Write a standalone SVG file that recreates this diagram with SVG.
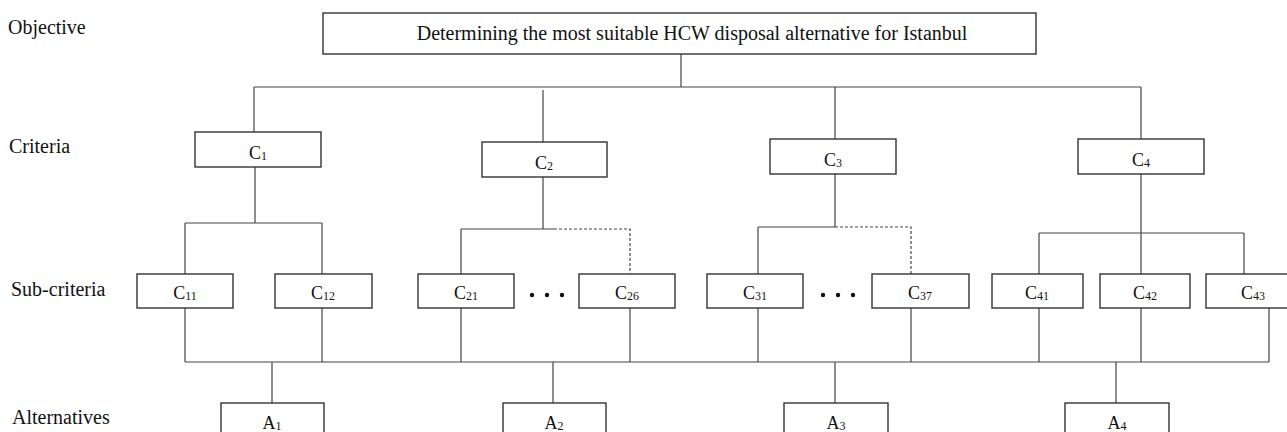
<svg xmlns="http://www.w3.org/2000/svg" width="1287" height="432" viewBox="0 0 1287 432">
<style>
.box{fill:#fff;stroke:#333;stroke-width:1.4}
.ln{stroke:#444;stroke-width:1.2;fill:none}
.dash{stroke:#444;stroke-width:1.2;fill:none;stroke-dasharray:3,2}
.lbl{font-family:"Liberation Serif","Times New Roman",serif;font-size:20px;fill:#111}
.t{font-family:"Liberation Serif","Times New Roman",serif;font-size:18px;fill:#111;text-anchor:middle}
.s{font-size:12px}
</style>
<rect width="1287" height="432" fill="#fff"/>
<g id="levels">
<text class="lbl" x="8" y="34">Objective</text>
<text class="lbl" x="9" y="153">Criteria</text>
<text class="lbl" x="11" y="296">Sub-criteria</text>
<text class="lbl" x="12" y="424">Alternatives</text>
</g>
<g id="connectors">
<path class="ln" d="M681 54V87M254 87H1141M254 87V132M543 90V142M835 87V139M1141 87V139"/>
<path class="ln" d="M255 167V223M185 223H322M185 223V274M322 223V274"/>
<path class="ln" d="M543 177V229M461 229H554M461 229V274"/>
<path class="dash" d="M554 229H630V274"/>
<path class="ln" d="M835 174V227M758 227H835M758 227V274"/>
<path class="dash" d="M835 227H911V274"/>
<path class="ln" d="M1141 174V274M1039 233H1244M1039 233V274M1244 233V274"/>
<path class="ln" d="M185 308V362M322 308V362M461 308V362M630 308V362M758 308V362M911 308V362M1039 308V362M1141 308V362M1269 308V362M185 362H1269"/>
<path class="ln" d="M272 362V403M553 362V403M835 362V403M1116 362V403"/>
</g>
<g id="objective"><rect class="box" x="323" y="13" width="713" height="41"/><text class="t" x="692" y="40" style="font-size:20px">Determining the most suitable HCW disposal alternative for Istanbul</text></g>
<g id="C1"><rect class="box" x="195" y="132" width="126" height="35"/><text class="t" x="258" y="159">C<tspan class="s" dy="1">1</tspan></text></g>
<g id="C2"><rect class="box" x="482" y="142" width="125" height="35"/><text class="t" x="544" y="169">C<tspan class="s" dy="1">2</tspan></text></g>
<g id="C3"><rect class="box" x="770" y="139" width="126" height="35"/><text class="t" x="833" y="166">C<tspan class="s" dy="1">3</tspan></text></g>
<g id="C4"><rect class="box" x="1078" y="139" width="126" height="35"/><text class="t" x="1141" y="166">C<tspan class="s" dy="1">4</tspan></text></g>
<g id="C11"><rect class="box" x="137" y="274" width="96" height="34"/><text class="t" x="185" y="299">C<tspan class="s" dy="1">11</tspan></text></g>
<g id="C12"><rect class="box" x="275" y="274" width="97" height="34"/><text class="t" x="323" y="299">C<tspan class="s" dy="1">12</tspan></text></g>
<g id="C21"><rect class="box" x="418" y="274" width="96" height="34"/><text class="t" x="466" y="299">C<tspan class="s" dy="1">21</tspan></text></g>
<g id="dots2"><circle cx="532" cy="295" r="2.2" fill="#111"/><circle cx="547" cy="295" r="2.2" fill="#111"/><circle cx="562" cy="295" r="2.2" fill="#111"/></g>
<g id="C26"><rect class="box" x="579" y="274" width="96" height="34"/><text class="t" x="627" y="299">C<tspan class="s" dy="1">26</tspan></text></g>
<g id="C31"><rect class="box" x="707" y="274" width="96" height="34"/><text class="t" x="755" y="299">C<tspan class="s" dy="1">31</tspan></text></g>
<g id="dots3"><circle cx="823" cy="295" r="2.2" fill="#111"/><circle cx="838" cy="295" r="2.2" fill="#111"/><circle cx="853" cy="295" r="2.2" fill="#111"/></g>
<g id="C37"><rect class="box" x="872" y="274" width="97" height="34"/><text class="t" x="920" y="299">C<tspan class="s" dy="1">37</tspan></text></g>
<g id="C41"><rect class="box" x="992" y="274" width="91" height="34"/><text class="t" x="1037" y="299">C<tspan class="s" dy="1">41</tspan></text></g>
<g id="C42"><rect class="box" x="1100" y="274" width="90" height="34"/><text class="t" x="1145" y="299">C<tspan class="s" dy="1">42</tspan></text></g>
<g id="C43"><rect class="box" x="1206" y="274" width="96" height="34"/><text class="t" x="1253" y="299">C<tspan class="s" dy="1">43</tspan></text></g>
<g id="A1"><rect class="box" x="221" y="403" width="103" height="40"/><text class="t" x="272" y="429">A<tspan class="s" dy="1">1</tspan></text></g>
<g id="A2"><rect class="box" x="503" y="403" width="103" height="40"/><text class="t" x="554" y="429">A<tspan class="s" dy="1">2</tspan></text></g>
<g id="A3"><rect class="box" x="784" y="403" width="104" height="40"/><text class="t" x="836" y="429">A<tspan class="s" dy="1">3</tspan></text></g>
<g id="A4"><rect class="box" x="1065" y="403" width="104" height="40"/><text class="t" x="1117" y="429">A<tspan class="s" dy="1">4</tspan></text></g>
</svg>
